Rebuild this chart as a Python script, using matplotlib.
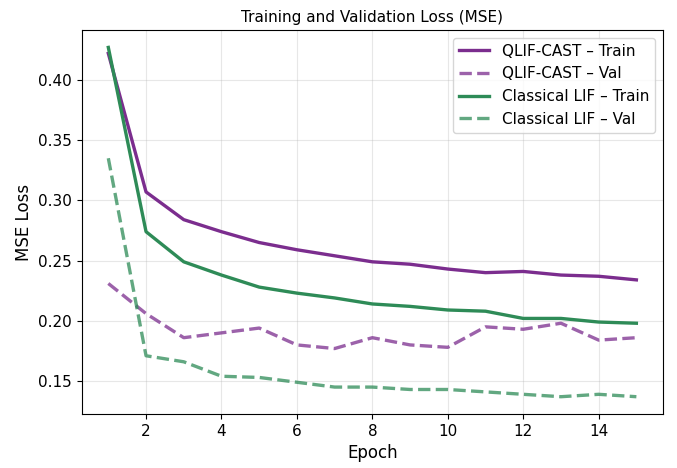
import matplotlib
matplotlib.use("Agg")
import matplotlib.pyplot as plt

epochs = list(range(1, 16))
qlif_train = [0.422, 0.307, 0.284, 0.274, 0.265, 0.259, 0.254, 0.249, 0.247, 0.243, 0.240, 0.241, 0.238, 0.237, 0.234]
qlif_val = [0.231, 0.206, 0.186, 0.190, 0.194, 0.180, 0.177, 0.186, 0.180, 0.178, 0.195, 0.193, 0.198, 0.184, 0.186]
lif_train = [0.427, 0.274, 0.249, 0.238, 0.228, 0.223, 0.219, 0.214, 0.212, 0.209, 0.208, 0.202, 0.202, 0.199, 0.198]
lif_val = [0.335, 0.171, 0.166, 0.154, 0.153, 0.149, 0.145, 0.145, 0.143, 0.143, 0.141, 0.139, 0.137, 0.139, 0.137]

purple = "#7B2D8E"
green = "#2E8B57"

fig, ax = plt.subplots(figsize=(6.77, 4.68), dpi=100)
fig.subplots_adjust(left=0.121, right=0.979, top=0.936, bottom=0.115)

ax.plot(epochs, qlif_train, color=purple, lw=2.4, label="QLIF-CAST – Train")
ax.plot(epochs, qlif_val, color=purple, lw=2.4, ls="--", alpha=0.75, label="QLIF-CAST – Val")
ax.plot(epochs, lif_train, color=green, lw=2.4, label="Classical LIF – Train")
ax.plot(epochs, lif_val, color=green, lw=2.4, ls="--", alpha=0.75, label="Classical LIF – Val")

ax.set_title("Training and Validation Loss (MSE)", fontsize=11)
ax.set_xlabel("Epoch", fontsize=12)
ax.set_ylabel("MSE Loss", fontsize=12)
ax.tick_params(labelsize=11)
ax.grid(True, alpha=0.3)
ax.legend(fontsize=11, loc="upper right")

fig.savefig("out.png", dpi=100)
